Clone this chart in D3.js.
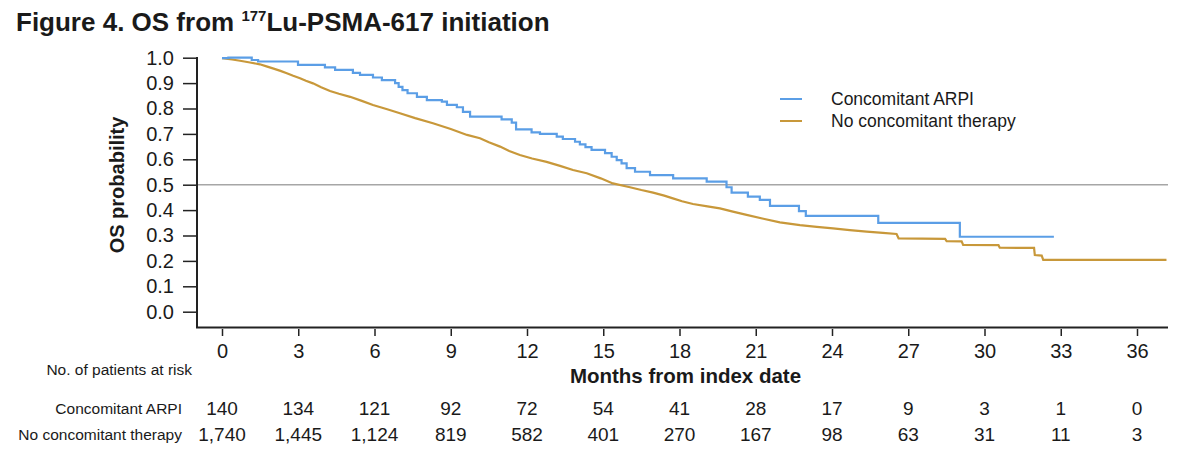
<!DOCTYPE html>
<meta charset="utf-8">
<style>
body { margin: 0; background: #fff; }
text { font-family: Arial, "Liberation Sans", sans-serif; fill: #1a1a1a; }
.curve { fill: none; stroke-width: 2.2; }
</style>

<svg width="1200" height="461"></svg>

<script src="https://d3js.org/d3.v7.min.js"></script>
<script>

// months, survival probability
var arpiMonths = [0, 0.25, 1.17, 1.42, 2.99, 4.05, 4.45, 5.15, 5.43, 5.94, 6.29, 6.81, 6.95, 7.1, 7.3,
  7.67, 8.06, 8.65, 8.85, 9.24, 9.48, 9.76, 10.86, 11.0, 11.4, 11.57, 12.18, 12.51, 13.17, 13.41,
  13.89, 14.08, 14.3, 14.54, 15.07, 15.33, 15.53, 15.72, 15.92, 16.25, 16.84, 17.75, 19.07, 19.85,
  20.05, 20.69, 21.16, 21.56, 22.7, 22.97, 25.82, 29.03, 32.73];
var arpiSurv = [0.998, 1.0, 0.991, 0.985, 0.972, 0.962, 0.952, 0.94, 0.932, 0.922, 0.912, 0.9, 0.885, 0.872, 0.86,
  0.846, 0.833, 0.827, 0.814, 0.805, 0.787, 0.768, 0.768, 0.757, 0.744, 0.718, 0.706, 0.700, 0.689, 0.680,
  0.669, 0.659, 0.648, 0.637, 0.624, 0.610, 0.597, 0.584, 0.565, 0.551, 0.538, 0.525, 0.512, 0.490,
  0.469, 0.453, 0.440, 0.417, 0.396, 0.377, 0.350, 0.295, 0.295];

var noneMonths = [0, 0.4, 0.71, 1.1, 1.49, 1.75, 2.0, 2.3, 2.55, 2.8, 3.07, 3.3, 3.58, 3.9, 4.25, 4.6, 5.04,
  5.5, 5.94, 6.5, 7.0, 7.6, 8.3, 9.0, 9.64, 10.15, 10.5, 10.94, 11.3, 11.72, 12.2, 12.77, 13.3, 13.81,
  14.35, 14.9, 15.38, 16.05, 16.5, 16.96, 17.4, 17.74, 18.1, 18.53, 19.1, 19.59, 20.1, 20.64, 21.3, 21.95,
  22.74, 23.4, 24.04, 24.7, 25.36, 26.0, 26.54, 26.62, 28.45, 28.51, 29.1, 29.16, 30.55, 30.6, 31.95, 31.98,
  32.25, 32.31, 37.16];
var noneSurv = [0.998, 0.993, 0.988, 0.981, 0.974, 0.966, 0.958, 0.948, 0.939, 0.929, 0.919, 0.909, 0.899, 0.884, 0.869, 0.858, 0.846,
  0.830, 0.814, 0.797, 0.781, 0.762, 0.742, 0.719, 0.696, 0.683, 0.667, 0.650, 0.633, 0.617, 0.603, 0.590, 0.574, 0.558,
  0.545, 0.525, 0.505, 0.490, 0.479, 0.469, 0.457, 0.446, 0.435, 0.424, 0.415, 0.407, 0.394, 0.381, 0.366, 0.352,
  0.341, 0.334, 0.328, 0.321, 0.315, 0.310, 0.306, 0.289, 0.287, 0.278, 0.277, 0.263, 0.262, 0.252, 0.251, 0.223,
  0.221, 0.204, 0.204];

var seriesNames = ["Concomitant ARPI", "No concomitant therapy"];
var seriesColors = ["#5b9ee6", "#c8983a"];

var tickMonths = [0, 3, 6, 9, 12, 15, 18, 21, 24, 27, 30, 33, 36];
var atRiskArpi = ["140", "134", "121", "92", "72", "54", "41", "28", "17", "9", "3", "1", "0"];
var atRiskNone = ["1,740", "1,445", "1,124", "819", "582", "401", "270", "167", "98", "63", "31", "11", "3"];

var svg = d3.select("svg");

var x = d3.scaleLinear().domain([0, 36]).range([222, 1137]);
var y = d3.scaleLinear().domain([0, 1]).range([311.7, 57.7]);

// title
var title = svg.append("text").attr("x", 16).attr("y", 31)
    .style("font-size", "26px").style("font-weight", "bold");
title.append("tspan").text("Figure 4. OS from ");
title.append("tspan").attr("dy", -10).style("font-size", "15px").text("177");
title.append("tspan").attr("dy", 10).text("Lu-PSMA-617 initiation");

// 0.5 reference line
svg.append("line")
    .attr("x1", 197).attr("x2", 1168)
    .attr("y1", y(0.5)).attr("y2", y(0.5))
    .attr("stroke", "#a6a6a6").attr("stroke-width", 1.5);

// axes
var yAxis = d3.axisLeft(y).tickValues(d3.range(0, 1.01, 0.1))
    .tickFormat(d3.format(".1f")).tickSize(14).tickPadding(9);
var gy = svg.append("g").attr("transform", "translate(197,0)").call(yAxis);
gy.select(".domain").remove();
gy.selectAll(".tick line").attr("stroke", "#222").attr("stroke-width", 1.5);
gy.selectAll(".tick text").style("font-size", "20px").attr("font-family", null).attr("fill", "#1a1a1a");

var xAxis = d3.axisBottom(x).tickValues(tickMonths).tickSize(7).tickPadding(8);
var gx = svg.append("g").attr("transform", "translate(0,329)").call(xAxis);
gx.select(".domain").remove();
gx.selectAll(".tick line").attr("stroke", "#222").attr("stroke-width", 1.5);
gx.selectAll(".tick text").attr("font-family", null)
    .style("font-size", "20px").attr("fill", "#1a1a1a");

svg.append("path")
    .attr("d", "M197,57V327.5H1168")
    .attr("fill", "none").attr("stroke", "#222").attr("stroke-width", 2);

// axis titles
svg.append("text")
    .attr("transform", "translate(124,185) rotate(-90)")
    .attr("text-anchor", "middle")
    .style("font-size", "20px").style("font-weight", "bold")
    .text("OS probability");

svg.append("text")
    .attr("x", x(18) + 6).attr("y", 383)
    .attr("text-anchor", "middle")
    .style("font-size", "20.5px").style("font-weight", "bold")
    .text("Months from index date");

// KM curves
var stepLine = d3.line()
    .x(d => x(d[0])).y(d => y(d[1]))
    .curve(d3.curveStepAfter);
var fineLine = d3.line()
    .x(d => x(d[0])).y(d => y(d[1]));

svg.append("path")
    .attr("class", "curve")
    .attr("stroke", seriesColors[1])
    .attr("d", fineLine(d3.zip(noneMonths, noneSurv)));

svg.append("path")
    .attr("class", "curve")
    .attr("stroke", seriesColors[0])
    .attr("d", stepLine(d3.zip(arpiMonths, arpiSurv)));

// legend
var leg = svg.append("g").attr("transform", "translate(780,99)");
seriesNames.forEach(function(name, i) {
  leg.append("line").attr("x1", 0).attr("x2", 22)
      .attr("y1", i * 22).attr("y2", i * 22)
      .attr("stroke", seriesColors[i]).attr("stroke-width", 2);
  leg.append("text").attr("x", 51).attr("y", i * 22 + 6)
      .style("font-size", "17.5px").text(name);
});

// patients at risk table
svg.append("text").attr("x", 192).attr("y", 375)
    .attr("text-anchor", "end").style("font-size", "15.5px").attr("fill", "#333")
    .text("No. of patients at risk");

[atRiskArpi, atRiskNone].forEach(function(row, i) {
  var yy = 415 + i * 26;
  svg.append("text").attr("x", 182).attr("y", yy - 1)
      .attr("text-anchor", "end").style("font-size", "15.5px").attr("fill", "#333")
      .text(seriesNames[i]);
  svg.append("g").selectAll("text")
      .data(row)
      .enter().append("text")
      .attr("x", (d, j) => x(tickMonths[j]))
      .attr("y", yy)
      .attr("text-anchor", "middle")
      .style("font-size", "19px")
      .text(d => d);
});

</script>
